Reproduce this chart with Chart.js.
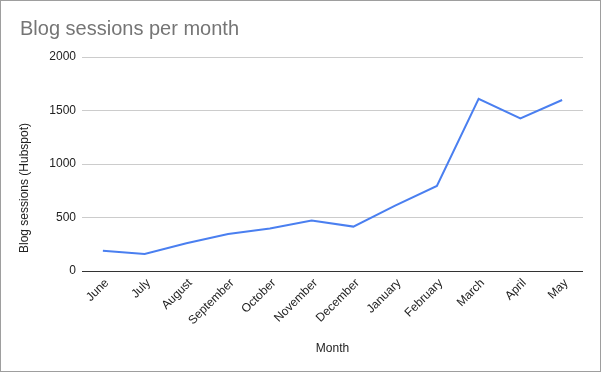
<!DOCTYPE html>
<html>
<head>
<meta charset="utf-8">
<script src="https://cdn.jsdelivr.net/npm/chart.js@4"></script>
<style>
  html, body { margin: 0; padding: 0; background: #fff; }
  .frame {
    position: absolute; left: 0; top: 0;
    width: 599px; height: 370px;
    border: 1px solid #9e9e9e;
    background: #fff;
  }
  canvas { display: block; }
</style>
</head>
<body>
<div class="frame">
  <canvas id="chart" width="599" height="370"></canvas>
</div>
<script>
  // Datos
  const months = ["June", "July", "August", "September", "October", "November",
                  "December", "January", "February", "March", "April", "May"]
  const sessions = [190, 160, 260, 346, 398, 472, 415, 610, 795, 1610, 1426, 1598]
  const yTicks = [0, 500, 1000, 1500, 2000]
  const yTitle = "Blog sessions (Hubspot)"

  const font = "Arial, 'Liberation Sans', sans-serif"

  // Título del eje Y dibujado a mano, centrado más abajo como en el original
  const yTitlePlugin = {
    id: "yTitle",
    afterDraw(chart) {
      const ctx = chart.ctx
      ctx.save()
      ctx.translate(24, 187)
      ctx.rotate(-Math.PI / 2)
      ctx.fillStyle = "#222"
      ctx.font = "12px " + font
      ctx.textAlign = "center"
      ctx.textBaseline = "middle"
      ctx.fillText(yTitle, 0, 0)
      ctx.restore()
    },
  }

  new Chart(document.getElementById("chart").getContext("2d"), {
    type: "line",
    data: {
      labels: months,
      datasets: [{
        label: yTitle,
        data: sessions,
        borderColor: "#4a7ff0",
        borderWidth: 2,
        pointRadius: 0,
        tension: 0,
        fill: false,
      }],
    },
    plugins: [yTitlePlugin],
    options: {
      responsive: false,
      animation: false,
      layout: { padding: { left: 19, right: 17, top: 0, bottom: 10 } },
      plugins: {
        legend: { display: false },
        tooltip: { enabled: false },
        title: {
          display: true,
          text: "Blog sessions per month",
          align: "start",
          color: "#757575",
          font: { family: font, size: 20, weight: "normal", lineHeight: 1.2 },
          padding: { top: 16, bottom: 16 },
        },
      },
      scales: {
        x: {
          offset: true,
          grid: { display: false, drawTicks: false },
          border: { display: false },
          ticks: {
            color: "#222",
            font: { family: font, size: 12 },
            maxRotation: 45,
            minRotation: 45,
            padding: 5,
            labelOffset: 4,
            autoSkip: false,
          },
          title: {
            display: true,
            text: "Month",
            color: "#222",
            font: { family: font, size: 12, lineHeight: 1 },
            padding: 6,
          },
          afterFit: (scale) => { scale.height = 90 },
        },
        y: {
          min: 0,
          max: 2000,
          afterBuildTicks: (scale) => {
            scale.ticks = yTicks.map((v) => ({ value: v }))
          },
          grid: {
            drawTicks: false,
            color: (ctx) => (ctx.tick && ctx.tick.value === 0 ? "#333" : "#ccc"),
          },
          border: { display: false },
          ticks: {
            color: "#222",
            font: { family: font, size: 12 },
            padding: 6,
            callback: (v) => String(v),
          },
          afterFit: (scale) => { scale.width = 62 },
        },
      },
    },
  })
</script>
</body>
</html>
